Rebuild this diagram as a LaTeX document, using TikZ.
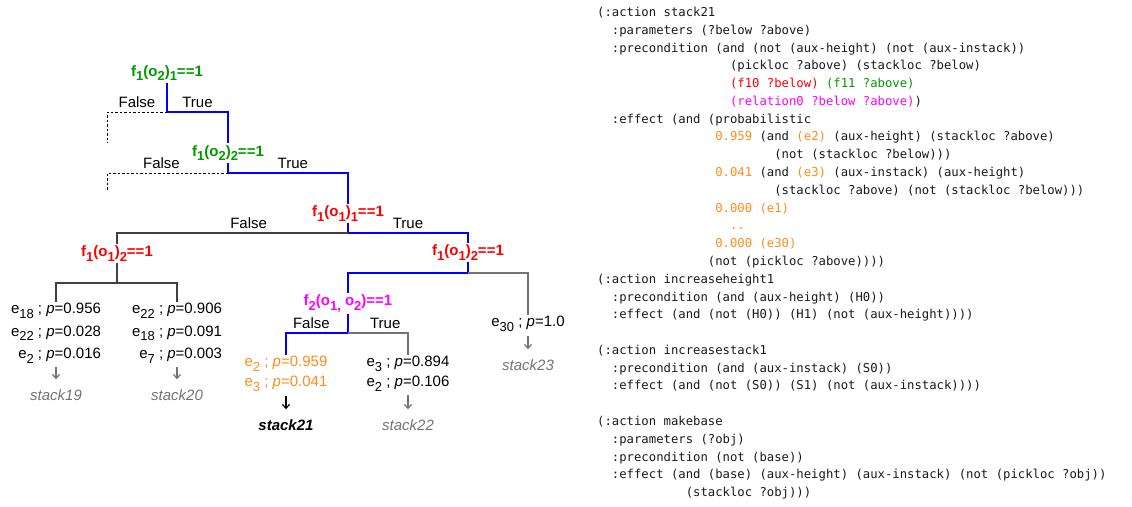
\documentclass[tikz,border=0pt]{standalone}
\usepackage{fontspec}
\setmainfont{Liberation Sans}
\newfontfamily\codefont{DejaVu Sans Mono}
\usetikzlibrary{arrows.meta}

\definecolor{fgreen}{RGB}{0,153,0}
\definecolor{fred}{RGB}{255,0,0}
\definecolor{fmag}{RGB}{255,0,255}
\definecolor{forange}{RGB}{255,140,26}
\definecolor{fblue}{RGB}{0,0,255}

\newcommand{\subs}[1]{\raisebox{-4.5pt}{\fontsize{13}{14}\selectfont #1}}
\newcommand{\ind}[1]{\hspace*{#1\fontcharwd\font`0}}
\newcommand{\orn}[1]{\textcolor{forange}{#1}}

\begin{document}
\begin{tikzpicture}[x=1pt,y=-1pt,
  test/.style={font=\bfseries\fontsize{15}{18}\selectfont, inner sep=2pt},
  lbl/.style={font=\fontsize{15}{18}\selectfont, text=black, above=3.5pt, inner sep=0pt},
  leaf/.style={font=\fontsize{15}{22.5}\selectfont, inner sep=1pt, anchor=north},
  stk/.style={font=\itshape\fontsize{15}{18}\selectfont, text=black!55, inner sep=2pt},
  hit/.style={fblue, line width=2.4pt},
  miss/.style={black!75, line width=1.2pt},
  side/.style={black!55, line width=1.2pt},
  cut/.style={black, line width=1pt, dash pattern=on 2.5pt off 2pt},
  go/.style={-{Straight Barb[length=4pt,width=7pt]}, black!55, line width=1.2pt,
    shorten <=3pt, shorten >=8pt},
  code/.style={font=\codefont\fontsize{12.26}{17.78}\selectfont, align=left,
    inner sep=0pt, anchor=north west, text=black!90}]

\useasboundingbox (0,0) rectangle (1132,506);

% tests
\node[test, text=fgreen] (t1) at (167,73) {f\subs{1}(o\subs{2})\subs{1}==1};
\node[test, text=fgreen] (t2) at (228,153) {f\subs{1}(o\subs{2})\subs{2}==1};
\node[test, text=fred] (t3) at (348,213.5) {f\subs{1}(o\subs{1})\subs{1}==1};
\node[test, text=fred] (t4) at (468,252.5) {f\subs{1}(o\subs{1})\subs{2}==1};
\node[test, text=fred] (t5) at (117,253.5) {f\subs{1}(o\subs{1})\subs{2}==1};
\node[test, text=fmag] (t6) at (348,303.5) {f\subs{2}(o\subs{1,} o\subs{2})==1};

\coordinate (j1) at (167,112);
\coordinate (j2) at (228,173);
\coordinate (j3) at (348,233);
\coordinate (j4) at (468,273);
\coordinate (j5) at (117,283);
\coordinate (j6) at (348,333);
\coordinate (d1) at (107,112);
\coordinate (d1e) at (107,143);
\coordinate (d2) at (107,173);
\coordinate (d2e) at (107,190);

% leaves
\node[leaf, align=right] (l1) at (56,302)
  {e\subs{18} ; \textit{p}=0.956\\e\subs{22} ; \textit{p}=0.028\\e\subs{2} ; \textit{p}=0.016};
\node[leaf, align=right] (l2) at (177,302)
  {e\subs{22} ; \textit{p}=0.906\\e\subs{18} ; \textit{p}=0.091\\e\subs{7} ; \textit{p}=0.003};
\node[leaf, align=left, text=forange, font=\fontsize{15}{20}\selectfont] (l4) at (286,355)
  {e\subs{2} ; \textit{p}=0.959\\e\subs{3} ; \textit{p}=0.041};
\node[leaf, align=left, font=\fontsize{15}{20}\selectfont] (l5) at (408,355)
  {e\subs{3} ; \textit{p}=0.894\\e\subs{2} ; \textit{p}=0.106};
\node[leaf] (l6) at (528,315) {e\subs{30} ; \textit{p}=1.0};

\node[stk] (s1) at (56,395) {stack19};
\node[stk] (s2) at (177,395) {stack20};
\node[stk, text=black, font=\bfseries\itshape\fontsize{15}{18}\selectfont] (s4) at (286,425) {stack21};
\node[stk] (s5) at (408,425) {stack22};
\node[stk] (s6) at (528,365) {stack23};

% branches
\draw[hit] (t1) -- (j1) -- node[lbl]{True} (j1 -| t2) -- (t2);
\draw[cut] (j1) -- node[lbl]{False} (d1) -- (d1e);
\draw[hit] (t2) -- (j2) -- node[lbl, pos=0.54]{True} (j2 -| t3) -- (t3);
\draw[cut] (j2) -- node[lbl, pos=0.55]{False} (d2) -- (d2e);
\draw[hit] (t3) -- (j3) -- node[lbl]{True} (j3 -| t4) -- (t4);
\draw[miss] (j3) -- node[lbl, pos=0.43]{False} (j3 -| t5) -- (t5);
\draw[miss] (t5) -- (j5) -- (j5 -| l1) -- (l1);
\draw[miss] (j5) -- (j5 -| l2) -- (l2);
\draw[hit] (t4) -- (j4) -- (j4 -| t6) -- (t6);
\draw[side] (j4) -- (j4 -| l6) -- (l6);
\draw[hit] (t6) -- (j6) -- node[lbl, pos=0.59]{False} (j6 -| l4) -- (l4);
\draw[side] (j6) -- node[lbl, pos=0.62]{True} (j6 -| l5) -- (l5);

\draw[go] (l1) -- (s1);
\draw[go] (l2) -- (s2);
\draw[go, black] (l4) -- (s4);
\draw[go] (l5) -- (s5);
\draw[go] (l6) -- (s6);

% pddl
\node[code] (pddl) at (597,7) {(:action stack21\\
\ind2:parameters (?below ?above)\\
\ind2:precondition (and (not (aux-height) (not (aux-instack))\\
\ind{18}(pickloc ?above) (stackloc ?below)\\
\ind{18}\textcolor{fred}{(f10 ?below)} \textcolor{fgreen}{(f11 ?above)}\\
\ind{18}\textcolor{fmag}{(relation0 ?below ?above)})\\
\ind2:effect (and (probabilistic\\
\ind{16}\orn{0.959} (and \orn{(e2)} (aux-height) (stackloc ?above)\\
\ind{24}(not (stackloc ?below)))\\
\ind{16}\orn{0.041} (and \orn{(e3)} (aux-instack) (aux-height)\\
\ind{24}(stackloc ?above) (not (stackloc ?below)))\\
\ind{16}\orn{0.000 (e1)}\\
\ind{18}\orn{..}\\
\ind{16}\orn{0.000 (e30)}\\
\ind{15}(not (pickloc ?above))))\\
(:action increaseheight1\\
\ind2:precondition (and (aux-height) (H0))\\
\ind2:effect (and (not (H0)) (H1) (not (aux-height))))\\
\mbox{}\\
(:action increasestack1\\
\ind2:precondition (and (aux-instack) (S0))\\
\ind2:effect (and (not (S0)) (S1) (not (aux-instack))))\\
\mbox{}\\
(:action makebase\\
\ind2:parameters (?obj)\\
\ind2:precondition (not (base))\\
\ind2:effect (and (base) (aux-height) (aux-instack) (not (pickloc ?obj))\\
\ind{12}(stackloc ?obj)))};

\end{tikzpicture}
\end{document}
